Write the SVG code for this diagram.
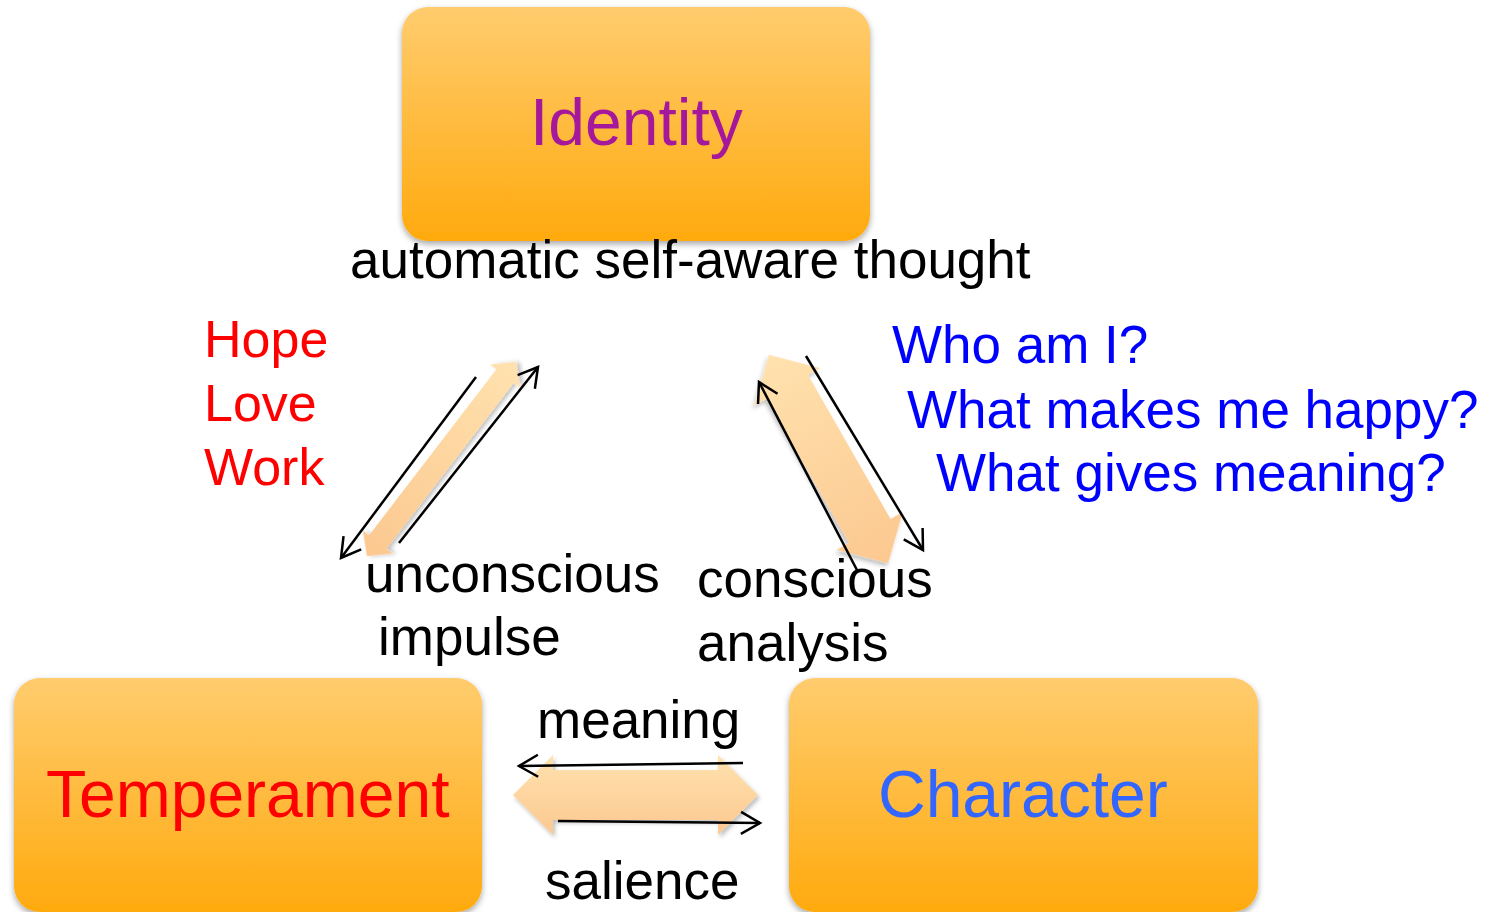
<svg xmlns="http://www.w3.org/2000/svg" width="1491" height="912" viewBox="0 0 1491 912">
<defs>
  <linearGradient id="boxGrad" x1="0" y1="0" x2="0" y2="1">
    <stop offset="0" stop-color="#FFCC6E"/>
    <stop offset="1" stop-color="#FFAA0E"/>
  </linearGradient>
  <linearGradient id="fatGrad" x1="0" y1="0" x2="0" y2="1">
    <stop offset="0" stop-color="#FFE2AE"/>
    <stop offset="1" stop-color="#FCC890"/>
  </linearGradient>
  <linearGradient id="fatGradL" x1="1" y1="0" x2="0" y2="0">
    <stop offset="0" stop-color="#FFE2AE"/>
    <stop offset="1" stop-color="#FCC890"/>
  </linearGradient>
  <linearGradient id="fatGradR" x1="0" y1="0" x2="1" y2="0">
    <stop offset="0" stop-color="#FFE2AE"/>
    <stop offset="1" stop-color="#FCC890"/>
  </linearGradient>
  <filter id="boxShadow" x="-10%" y="-10%" width="120%" height="125%">
    <feDropShadow dx="0" dy="3" stdDeviation="3" flood-color="#000" flood-opacity="0.35"/>
  </filter>
  <filter id="arrowShadow" x="-20%" y="-20%" width="140%" height="140%">
    <feDropShadow dx="2" dy="3" stdDeviation="2" flood-color="#000" flood-opacity="0.25"/>
  </filter>
  <marker id="openHead" markerUnits="userSpaceOnUse" markerWidth="26" markerHeight="26" refX="21" refY="13" orient="auto" viewBox="0 0 26 26">
    <path d="M2,2 L21,13 L2,24" fill="none" stroke="#000" stroke-width="2.5"/>
  </marker>
  <style>
    .box { fill: url(#boxGrad); filter: url(#boxShadow); }
    .lbl { font-family: "Liberation Sans", Arial, sans-serif; font-size: 53px; fill: #000; }
    .title { font-family: "Liberation Sans", Arial, sans-serif; font-size: 66px; }
    .thin { fill: none; stroke: #000; stroke-width: 2.5; marker-end: url(#openHead); }
    .fat { filter: url(#arrowShadow); }
  </style>
</defs>
<rect width="1491" height="912" fill="#FFFFFF"/>

<g id="connectors">
  <path class="fat" fill="url(#fatGradL)" transform="translate(441.5,459) rotate(-52.5)" d="M-122.5,0 L-104.5,-19 L-104.5,-11 L104.5,-11 L104.5,-19 L122.5,0 L104.5,19 L104.5,11 L-104.5,11 L-104.5,19 Z"/>
  <path class="fat" fill="url(#fatGradR)" transform="translate(828.5,459) rotate(60.2)" d="M-120,0 L-83,-38 L-83,-24 L83,-24 L83,-38 L120,0 L83,38 L83,24 L-83,24 L-83,38 Z"/>
  <path class="fat" fill="url(#fatGrad)" d="M513,795 L553,755 L553,770 L718,770 L718,755 L758,795 L718,835 L718,820 L553,820 L553,835 Z"/>
  <line class="thin" x1="476" y1="377" x2="341" y2="558"/>
  <line class="thin" x1="399" y1="543" x2="538" y2="367"/>
  <line class="thin" x1="806" y1="356" x2="923" y2="550"/>
  <line class="thin" x1="858" y1="572" x2="759" y2="382"/>
  <line class="thin" x1="743" y1="763" x2="519" y2="766"/>
  <line class="thin" x1="558" y1="821" x2="760" y2="823"/>
</g>

<g id="identity">
  <rect class="box" x="402" y="7" width="468" height="234" rx="26" ry="26"/>
  <text class="title" x="530" y="145" fill="#A5189C">Identity</text>
</g>

<g id="temperament">
  <rect class="box" x="14" y="678" width="468" height="234" rx="26" ry="26"/>
  <text class="title" x="46" y="817" fill="#FF0000">Temperament</text>
</g>

<g id="character">
  <rect class="box" x="789" y="678" width="469" height="234" rx="26" ry="26"/>
  <text class="title" x="878" y="817" fill="#3366FF">Character</text>
</g>

<g id="labels">
  <text class="lbl" x="350" y="278">automatic self-aware thought</text>
  <text class="lbl" x="204" y="357" style="fill:#FF0000;font-size:52px">Hope</text>
  <text class="lbl" x="204" y="421" style="fill:#FF0000;font-size:52px">Love</text>
  <text class="lbl" x="204" y="485" style="fill:#FF0000;font-size:52px">Work</text>
  <text class="lbl" x="892" y="363" style="fill:#0000FF">Who am I?</text>
  <text class="lbl" x="907" y="428" style="fill:#0000FF">What makes me happy?</text>
  <text class="lbl" x="936" y="491" style="fill:#0000FF">What gives meaning?</text>
  <text class="lbl" x="365" y="592">unconscious</text>
  <text class="lbl" x="378" y="655">impulse</text>
  <text class="lbl" x="697" y="597">conscious</text>
  <text class="lbl" x="697" y="661">analysis</text>
  <text class="lbl" x="537" y="738">meaning</text>
  <text class="lbl" x="545" y="899">salience</text>
</g>
</svg>
